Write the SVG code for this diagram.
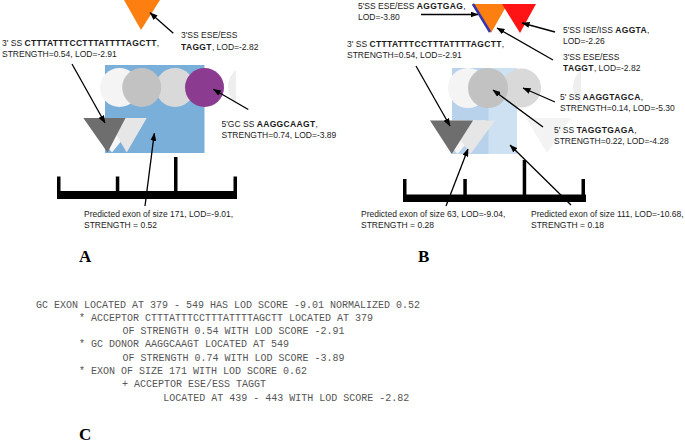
<svg xmlns="http://www.w3.org/2000/svg" width="685" height="443" viewBox="0 0 685 443">
<defs>
<marker id="ah" markerUnits="userSpaceOnUse" markerWidth="8" markerHeight="6" refX="7.5" refY="3" orient="auto">
<path d="M0,0 L8,3 L0,6 z" fill="#000"/>
</marker>
<style>
.t{font-family:"Liberation Sans",Arial,sans-serif;font-size:8.5px;fill:#1a1a1a}
.b{font-weight:bold;letter-spacing:0.35px}
.m{font-family:"Liberation Mono","Courier New",monospace;font-size:10px;fill:#555}
.lab{font-family:"Liberation Serif","Times New Roman",serif;font-size:17px;font-weight:bold;fill:#000}
.c line{stroke:#000;stroke-width:1.3;marker-end:url(#ah)}
.bar{fill:#000}
</style>
</defs>
<rect width="685" height="443" fill="#fff"/>

<!-- Panel A -->
<g id="A-exon171"><rect x="105" y="65" width="99.5" height="88" fill="#7aafd9"/></g>
<g id="A-sliver"><path d="M236,70 A22,22 0 0 0 236,104 Z" fill="#eeeeee"/></g>
<g id="A-circles">
<circle cx="119.5" cy="87.5" r="19.5" fill="#f4f4f4"/>
<circle cx="175" cy="87.5" r="19.5" fill="#d9d9d9"/>
<circle cx="141.7" cy="87.5" r="19.5" fill="#c2c2c2"/>
<circle id="A-donor" cx="204.5" cy="87.5" r="19.5" fill="#8b3c90"/>
</g>
<g id="A-acceptors">
<polygon points="84,118 140,118 112,152.5" fill="#f6f6f6"/>
<polygon points="106.7,118 146.7,118 126.7,152.5" fill="#e6e6e6"/>
<polygon id="A-acceptor" points="83.3,118 125.5,118 107.5,152.5" fill="#6e6e6e"/>
</g>
<g id="A-ese"><polygon points="124,0 160,0 141,30" fill="#fd7f12"/></g>
<g id="A-axis">
<rect class="bar" x="57" y="191" width="180" height="8"/>
<rect class="bar" x="57" y="176.5" width="3.5" height="16"/>
<rect class="bar" x="115.8" y="176.5" width="3.5" height="16"/>
<rect class="bar" x="174" y="157" width="3.5" height="36"/>
<rect class="bar" x="233.5" y="176.5" width="3.5" height="16"/>
</g>
<g id="A-labels">
<text class="t" x="181" y="37.5">3'SS ESE/ESS</text>
<text class="t" x="181" y="49.5"><tspan class="b">TAGGT</tspan>, LOD=-2.82</text>
<text class="t" x="2" y="46">3' SS <tspan class="b">CTTTATTTCCTTTATTTTAGCTT</tspan>,</text>
<text class="t" x="2" y="57">STRENGTH=0.54, LOD=-2.91</text>
<text class="t" x="221.5" y="127">5'GC SS <tspan class="b">AAGGCAAGT</tspan>,</text>
<text class="t" x="221.5" y="138">STRENGTH=0.74, LOD=-3.89</text>
<text class="t" x="84" y="216.5">Predicted exon of size 171, LOD=-9.01,</text>
<text class="t" x="84" y="227.5">STRENGTH = 0.52</text>
<text class="lab" x="79" y="262">A</text>
</g>

<!-- Panel B -->
<g id="B-exons">
<rect x="452" y="68" width="65" height="86" fill="#cde1f2"/>
<rect x="452" y="68" width="36.5" height="86" fill="#b7d2ea"/>
</g>
<g id="B-sliver"><path d="M581,70 A22,22 0 0 0 581,104 Z" fill="#eeeeee"/></g>
<g id="B-faint"><polygon points="526,118 571,118 547,153" fill="#f3f3f3"/></g>
<g id="B-circles">
<circle cx="468" cy="88" r="20" fill="#f4f4f4"/>
<circle id="B-donor2" cx="521.5" cy="88" r="19.5" fill="#d9d9d9"/>
<circle id="B-donor1" cx="488" cy="88" r="20" fill="#c2c2c2"/>
</g>
<g id="B-acceptors">
<polygon points="430,120.5 486,120.5 457.5,154" fill="#f6f6f6"/>
<polygon points="447,120.5 495,120.5 470.5,154" fill="#e6e6e6"/>
<polygon id="B-acceptor" points="430,120.5 473,120.5 451.7,154" fill="#6e6e6e"/>
</g>
<g id="B-top">
<polygon points="472,4 507.5,4 491,33" fill="#fd7f12"/>
<polygon points="502,4 536,4 520,33" fill="#fe1414"/>
<line x1="473" y1="4" x2="490" y2="32" stroke="#3535b0" stroke-width="2.5"/>
</g>
<g id="B-axis">
<rect class="bar" x="403" y="194.5" width="183" height="7.5"/>
<rect class="bar" x="403" y="179" width="3.5" height="16"/>
<rect class="bar" x="463.3" y="179" width="3.5" height="16"/>
<rect class="bar" x="522.7" y="160" width="3.5" height="35"/>
<rect class="bar" x="581.5" y="179" width="3.5" height="16"/>
</g>
<g id="B-labels">
<text class="t" x="358" y="8.5">5'SS ESE/ESS <tspan class="b">AGGTGAG</tspan>,</text>
<text class="t" x="358" y="19.5">LOD=-3.80</text>
<text class="t" x="563" y="32.5">5'SS ISE/ISS <tspan class="b">AGGTA</tspan>,</text>
<text class="t" x="563" y="43.5">LOD=-2.26</text>
<text class="t" x="563" y="59.5">3'SS ESE/ESS</text>
<text class="t" x="563" y="71"><tspan class="b">TAGGT</tspan>, LOD=-2.82</text>
<text class="t" x="347" y="46.5">3' SS <tspan class="b">CTTTATTTCCTTTATTTTAGCTT</tspan>,</text>
<text class="t" x="347" y="57.5">STRENGTH=0.54, LOD=-2.91</text>
<text class="t" x="560" y="99.5">5' SS <tspan class="b">AAGGTAGCA</tspan>,</text>
<text class="t" x="560" y="110.5">STRENGTH=0.14, LOD=-5.30</text>
<text class="t" x="554" y="132.5">5' SS <tspan class="b">TAGGTGAGA</tspan>,</text>
<text class="t" x="554" y="143.5">STRENGTH=0.22, LOD=-4.28</text>
<text class="t" x="361" y="217">Predicted exon of size 63, LOD=-9.04,</text>
<text class="t" x="361" y="228">STRENGTH = 0.28</text>
<text class="t" x="531" y="217">Predicted exon of size 111, LOD=-10.68,</text>
<text class="t" x="531" y="228">STRENGTH = 0.18</text>
<text class="lab" x="418" y="262">B</text>
</g>

<!-- Connectors -->
<g id="connectors" class="c">
<line x1="173.3" y1="33.3" x2="150" y2="12.7"/>
<line x1="72" y1="64" x2="105" y2="123"/>
<line x1="248.3" y1="109.5" x2="213.3" y2="89.3"/>
<line x1="145" y1="206" x2="154.3" y2="133.3"/>
<line x1="421" y1="14.5" x2="478" y2="14.5"/>
<line x1="555" y1="32" x2="522" y2="23"/>
<line x1="553" y1="60" x2="497" y2="28"/>
<line x1="416" y1="66" x2="450" y2="126"/>
<line x1="555" y1="102" x2="523" y2="88"/>
<line x1="543" y1="127" x2="493" y2="90"/>
<line x1="446" y1="206" x2="468" y2="149"/>
<line x1="571" y1="205" x2="510" y2="145"/>
</g>

<!-- Panel C -->
<g id="C-text">
<text class="m" x="36" y="307.5">GC EXON LOCATED AT 379 - 549 HAS LOD SCORE -9.01 NORMALIZED 0.52</text>
<text class="m" x="79" y="320.8">* ACCEPTOR CTTTATTTCCTTTATTTTAGCTT LOCATED AT 379</text>
<text class="m" x="122.5" y="334.1">OF STRENGTH 0.54 WITH LOD SCORE -2.91</text>
<text class="m" x="79" y="347.4">* GC DONOR AAGGCAAGT LOCATED AT 549</text>
<text class="m" x="122.5" y="360.7">OF STRENGTH 0.74 WITH LOD SCORE -3.89</text>
<text class="m" x="79" y="374">* EXON OF SIZE 171 WITH LOD SCORE 0.62</text>
<text class="m" x="122" y="387.3">+ ACCEPTOR ESE/ESS TAGGT</text>
<text class="m" x="163.3" y="400.6">LOCATED AT 439 - 443 WITH LOD SCORE -2.82</text>
<text class="lab" x="79" y="439.5">C</text>
</g>
</svg>
